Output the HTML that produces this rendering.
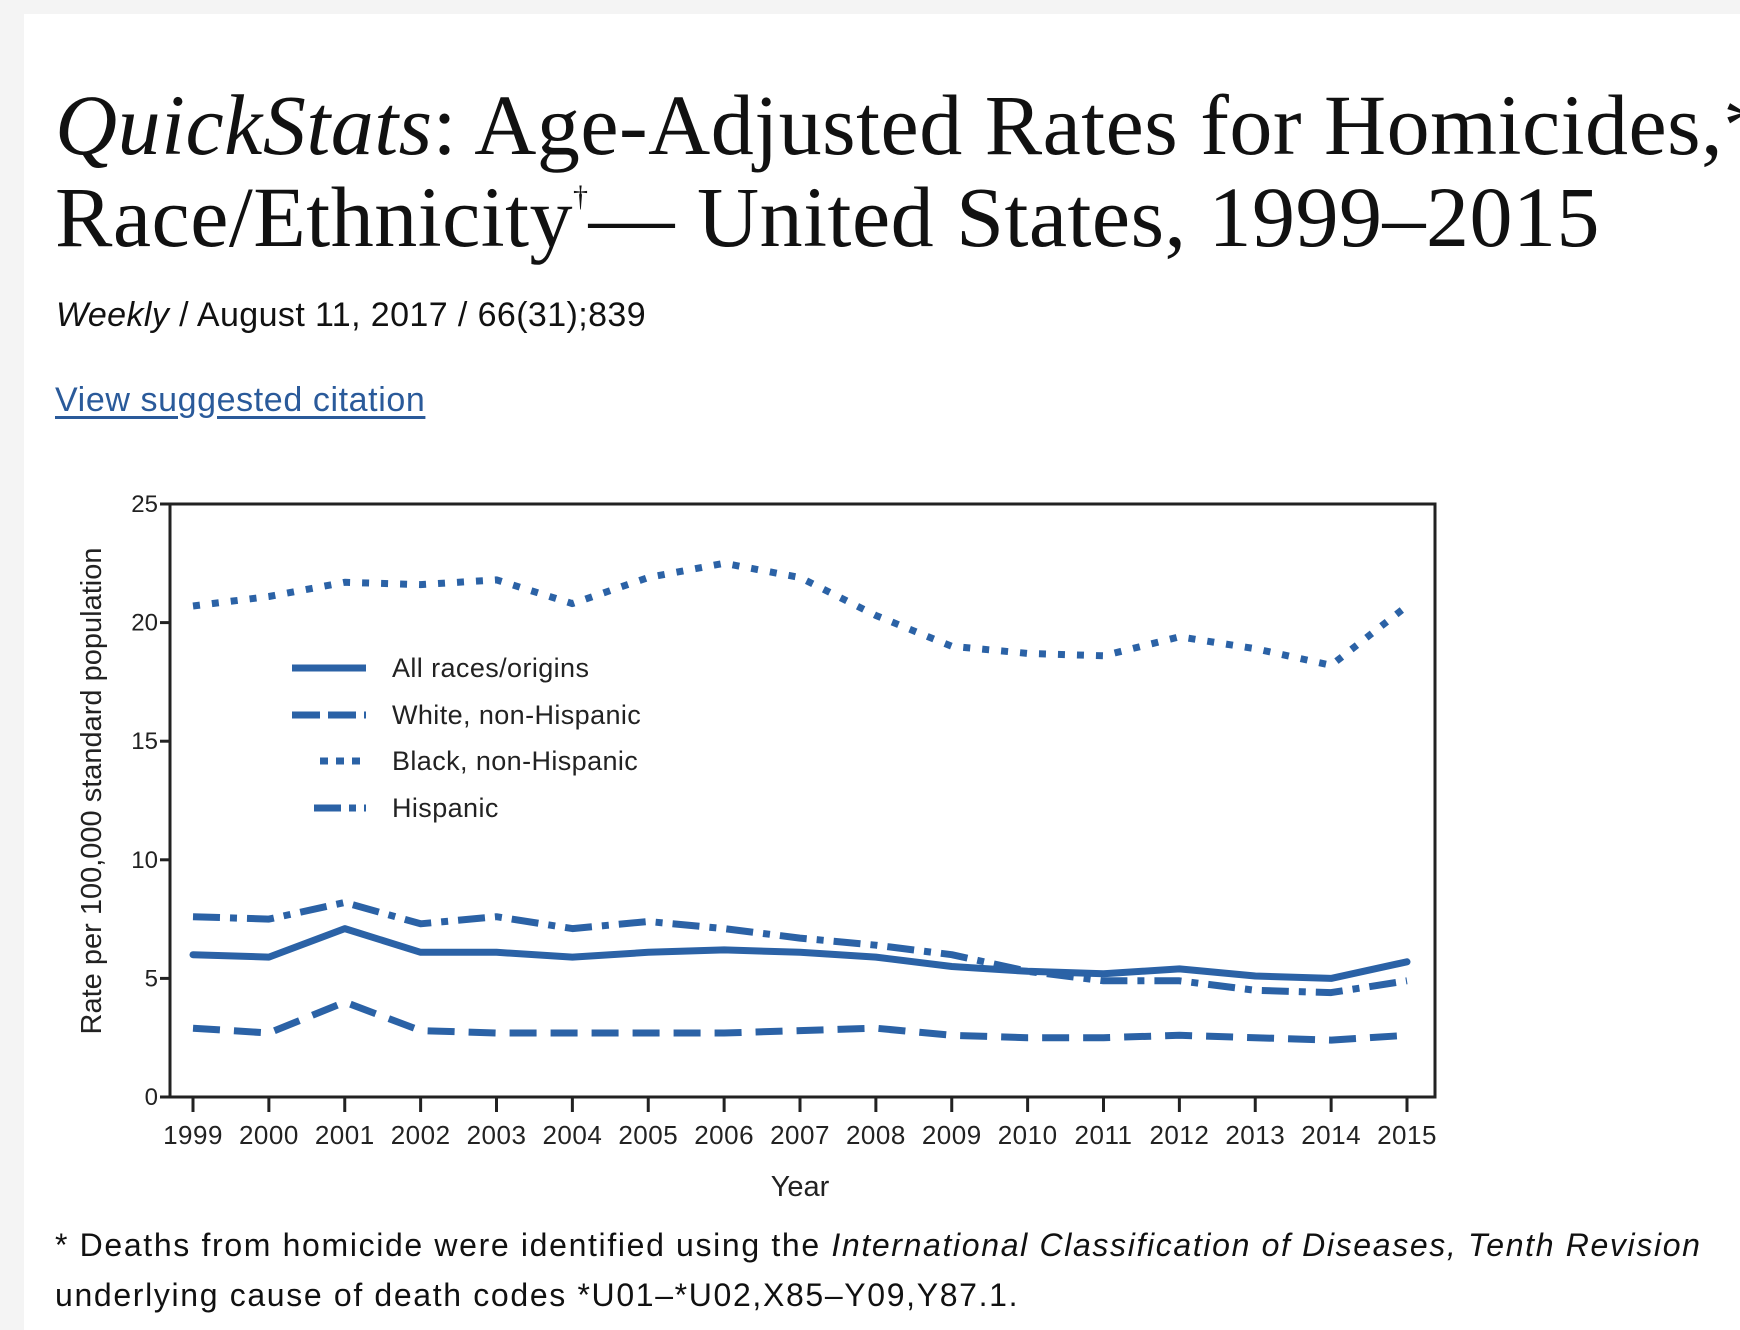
<!DOCTYPE html>
<html><head><meta charset="utf-8">
<style>
html,body{margin:0;padding:0;}
body{width:1740px;height:1330px;background:#f4f4f4;position:relative;overflow:hidden;font-family:"Liberation Sans",sans-serif;}
#card{position:absolute;left:24px;top:14px;width:1716px;height:1316px;background:#fff;}
.t{position:absolute;white-space:nowrap;color:#111;}
#title{left:55px;top:79px;font-family:"Liberation Serif",serif;font-size:86px;line-height:92px;letter-spacing:0.5px;}
#title .dag{font-size:30px;position:relative;top:-40px;vertical-align:baseline;line-height:0;}
#sub{left:56px;top:296px;font-size:34px;letter-spacing:0.4px;}
#cite{left:55px;top:381px;font-size:34px;letter-spacing:0.6px;color:#2a5a9a;text-decoration:underline;text-underline-offset:5px;}
#foot{left:55px;top:1220px;font-size:32px;line-height:50px;letter-spacing:1.65px;color:#111;}
svg{position:absolute;left:0;top:0;}
</style></head>
<body>
<div id="card"></div>
<div class="t" id="title"><i>QuickStats</i>: Age-Adjusted Rates for Homicides,*<br>Race/Ethnicity<span class="dag">†</span>— United States, 1999–2015</div>
<div class="t" id="sub"><i>Weekly</i> / August 11, 2017 / 66(31);839</div>
<div class="t" id="cite">View suggested citation</div>
<div class="t" id="foot">* Deaths from homicide were identified using the <i>International Classification of Diseases, Tenth Revision</i><br>underlying cause of death codes *U01–*U02,X85–Y09,Y87.1.</div>
<svg id="chart" width="1740" height="1330"></svg>
<script>
const years=[1999,2000,2001,2002,2003,2004,2005,2006,2007,2008,2009,2010,2011,2012,2013,2014,2015];
const allRaces=[6.0,5.9,7.1,6.1,6.1,5.9,6.1,6.2,6.1,5.9,5.5,5.3,5.2,5.4,5.1,5.0,5.7];
const whiteNH=[2.9,2.7,4.0,2.8,2.7,2.7,2.7,2.7,2.8,2.9,2.6,2.5,2.5,2.6,2.5,2.4,2.6];
const blackNH=[20.7,21.1,21.7,21.6,21.8,20.8,21.9,22.5,21.9,20.3,19.0,18.7,18.6,19.4,18.9,18.2,20.7];
const hispanic=[7.6,7.5,8.2,7.3,7.6,7.1,7.4,7.1,6.7,6.4,6.0,5.3,4.9,4.9,4.5,4.4,4.9];
const yTicks=[0,5,10,15,20,25];
const seriesNames=["All races/origins","White, non-Hispanic","Black, non-Hispanic","Hispanic"];

const NS="http://www.w3.org/2000/svg";
const svg=document.getElementById('chart');
const L=170,R=1435,T=504,B=1097,X0=193,X1=1407;
const C="#2b62a6";
function x(i){return X0+(X1-X0)*(years[i]-years[0])/(years[years.length-1]-years[0]);}
function y(v){return B-(B-T)*v/25;}
function mk(tag,attrs){const e=document.createElementNS(NS,tag);for(const k in attrs)e.setAttribute(k,attrs[k]);svg.appendChild(e);return e;}

const frame=mk('rect',{x:L,y:T,width:R-L,height:B-T,fill:'none',stroke:'#222','stroke-width':3});



yTicks.forEach(v=>{
  const tk=mk('line',{x1:L-10,x2:L,y1:y(v),y2:y(v),stroke:'#222','stroke-width':3});
  
  
  const t=mk('text',{x:L-12,y:y(v)+8,'text-anchor':'end','font-size':24,fill:'#222','font-family':'Liberation Sans, sans-serif'});
  t.textContent=v;
  
  
});
years.forEach((yr,i)=>{
  const tk=mk('line',{x1:x(i),x2:x(i),y1:B,y2:B+15,stroke:'#222','stroke-width':3});
  
  
  const t=mk('text',{x:x(i),y:B+47,'text-anchor':'middle','font-size':26,'letter-spacing':'0.5',fill:'#222','font-family':'Liberation Sans, sans-serif'});
  t.textContent=yr;
  
  
});
const yt=mk('text',{x:0,y:0,transform:'translate(101,791) rotate(-90)','text-anchor':'middle','font-size':29,fill:'#222','font-family':'Liberation Sans, sans-serif'});
yt.textContent='Rate per 100,000 standard population';


const xt=mk('text',{x:800,y:1196,'text-anchor':'middle','font-size':29,fill:'#222','font-family':'Liberation Sans, sans-serif'});
xt.textContent='Year';



const dashes=["none","27 14","7 12","27 10 7 10"];
const caps=["round","butt","butt","butt"];
const data=[allRaces,whiteNH,blackNH,hispanic];
const ids=["series-all-races","series-white","series-black","series-hispanic"];
data.forEach((arr,s)=>{
  const d=arr.map((v,i)=>(i?'L':'M')+x(i).toFixed(1)+','+y(v).toFixed(1)).join(' ');
  const p=mk('path',{d:d,fill:'none',stroke:C,'stroke-width':7,'stroke-dasharray':dashes[s],'stroke-linejoin':'round','stroke-linecap':caps[s]});
  
  
});
const legY=[668,715,761,808];
const legX0=[292,292,320,314];
seriesNames.forEach((n,s)=>{
  const l=mk('line',{x1:legX0[s],x2:366,y1:legY[s],y2:legY[s],stroke:C,'stroke-width':7,'stroke-dasharray':dashes[s]==="none"?"none":(s===1?"28 8":s===2?"8 8":"27 8 7 8")});
  
  
  const t=mk('text',{x:392,y:legY[s]+9,'font-size':27,'letter-spacing':'0.4',fill:'#222','font-family':'Liberation Sans, sans-serif'});
  t.textContent=n;
  
  
});
</script>
</body></html>
